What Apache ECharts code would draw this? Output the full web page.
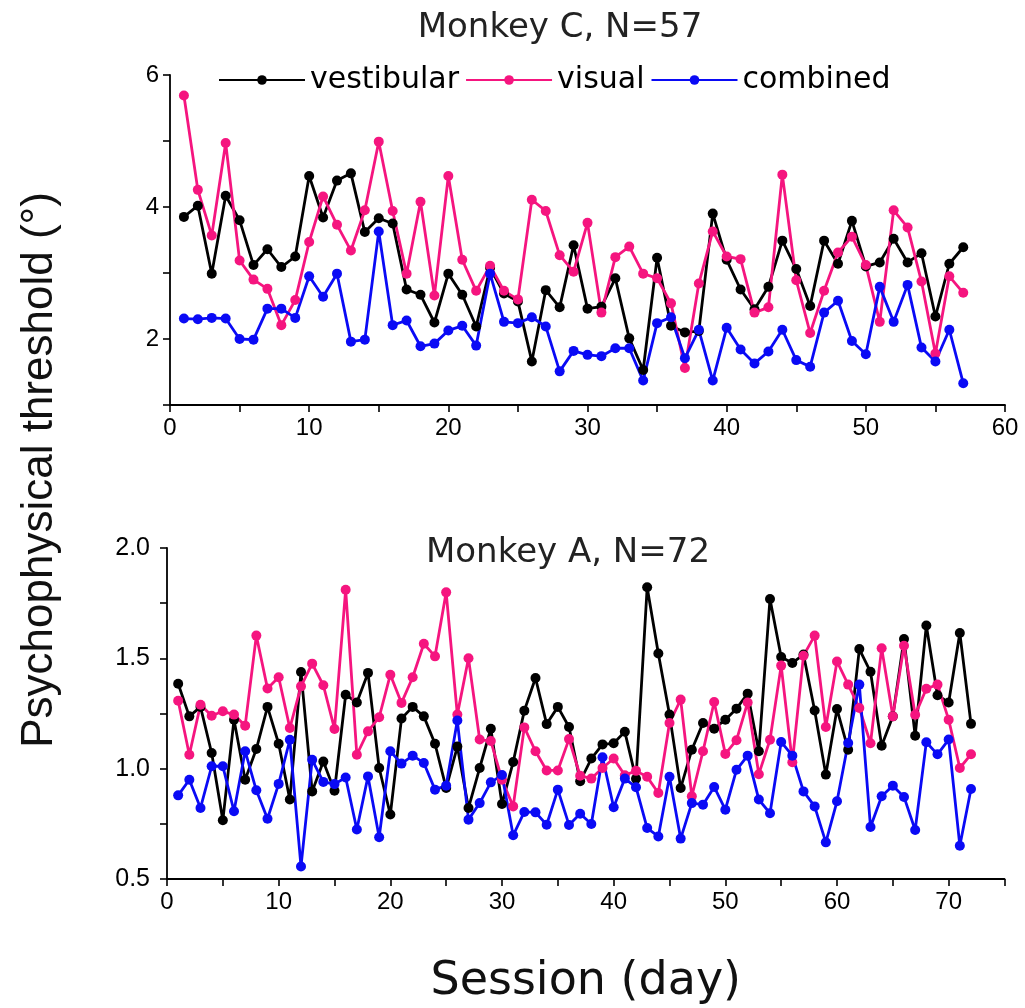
<!DOCTYPE html>
<html>
<head>
<meta charset="utf-8">
<title>Psychophysical threshold by session</title>
<script src="https://cdn.jsdelivr.net/npm/echarts@6/dist/echarts.min.js"></script>
<style>
  html, body { margin: 0; padding: 0; background: #fff; }
  #chart { width: 1025px; height: 1008px; }
</style>
</head>
<body>
<div id="chart"></div>
<script>
// Monkey C: 57 sessions
const monkeyCVestibular = [3.85, 4.02, 2.99, 4.17, 3.80, 3.12, 3.36, 3.09, 3.25, 4.47,
  3.84, 4.40, 4.51, 3.62, 3.83, 3.75, 2.75, 2.67, 2.25, 2.99,
  2.67, 2.19, 3.08, 2.69, 2.57, 1.66, 2.74, 2.48, 3.42, 2.46,
  2.49, 2.92, 2.01, 1.53, 3.23, 2.20, 2.10, 2.12, 3.90, 3.20,
  2.75, 2.45, 2.79, 3.49, 3.06, 2.50, 3.49, 3.14, 3.79, 3.10,
  3.16, 3.52, 3.16, 3.30, 2.34, 3.14, 3.39];
const monkeyCVisual = [5.69, 4.26, 3.57, 4.97, 3.19, 2.90, 2.76, 2.21, 2.59, 3.47,
  4.16, 3.73, 3.34, 3.95, 4.99, 3.94, 2.99, 4.08, 2.66, 4.47,
  3.20, 2.73, 3.11, 2.73, 2.60, 4.11, 3.94, 3.27, 3.02, 3.76,
  2.40, 3.24, 3.40, 2.99, 2.92, 2.54, 1.56, 2.84, 3.63, 3.25,
  3.21, 2.40, 2.48, 4.49, 2.89, 2.09, 2.73, 3.31, 3.55, 3.12,
  2.26, 3.95, 3.69, 2.87, 1.78, 2.95, 2.70];
const monkeyCCombined = [2.31, 2.30, 2.32, 2.31, 2.00, 1.99, 2.46, 2.46, 2.32, 2.95,
  2.64, 2.99, 1.96, 1.99, 3.63, 2.21, 2.28, 1.89, 1.93, 2.13,
  2.20, 1.90, 2.99, 2.26, 2.24, 2.33, 2.19, 1.51, 1.82, 1.76,
  1.74, 1.86, 1.86, 1.37, 2.24, 2.33, 1.71, 2.14, 1.37, 2.17,
  1.84, 1.63, 1.81, 2.14, 1.68, 1.58, 2.40, 2.58, 1.97, 1.77,
  2.79, 2.26, 2.82, 1.87, 1.66, 2.14, 1.33];

// Monkey A: 72 sessions
const monkeyAVestibular = [1.385, 1.237, 1.28, 1.071, 0.766, 1.222, 0.95, 1.089, 1.28, 1.113,
  0.86, 1.438, 0.897, 1.032, 0.90, 1.335, 1.30, 1.434, 1.003, 0.792,
  1.227, 1.28, 1.237, 1.113, 0.912, 1.10, 0.822, 1.003, 1.181, 0.84,
  1.03, 1.263, 1.411, 1.202, 1.28, 1.189, 0.943, 1.046, 1.11, 1.115,
  1.167, 0.954, 1.822, 1.522, 1.245, 0.912, 1.086, 1.207, 1.181, 1.222,
  1.272, 1.34, 1.079, 1.769, 1.506, 1.479, 1.517, 1.264, 0.973, 1.27,
  1.086, 1.542, 1.439, 1.104, 1.237, 1.588, 1.149, 1.649, 1.333, 1.30,
  1.615, 1.203];
const monkeyAVisual = [1.308, 1.063, 1.29, 1.24, 1.26, 1.245, 1.195, 1.603, 1.363, 1.414,
  1.184, 1.373, 1.476, 1.378, 1.18, 1.811, 1.063, 1.169, 1.233, 1.426,
  1.298, 1.414, 1.566, 1.509, 1.799, 1.245, 1.50, 1.132, 1.125, 0.95,
  0.829, 1.187, 1.079, 0.992, 0.992, 1.134, 0.968, 0.955, 1.003, 1.046,
  0.97, 0.99, 0.963, 0.89, 1.207, 1.313, 0.875, 1.079, 1.302, 1.067,
  1.129, 1.30, 0.975, 1.131, 1.467, 1.029, 1.512, 1.603, 1.189, 1.486,
  1.381, 1.275, 1.115, 1.546, 1.237, 1.557, 1.244, 1.362, 1.381, 1.222,
  1.003, 1.065];
const monkeyACombined = [0.879, 0.95, 0.822, 1.011, 1.011, 0.807, 1.079, 0.902, 0.773, 0.931,
  1.131, 0.557, 1.04, 0.94, 0.93, 0.96, 0.724, 0.965, 0.689, 1.079,
  1.023, 1.059, 1.026, 0.905, 0.923, 1.218, 0.769, 0.844, 0.938, 0.971,
  0.698, 0.804, 0.802, 0.746, 0.905, 0.745, 0.796, 0.749, 1.052, 0.825,
  0.955, 0.916, 0.731, 0.693, 0.963, 0.683, 0.844, 0.837, 0.917, 0.814,
  0.995, 1.059, 0.86, 0.798, 1.121, 1.059, 0.897, 0.829, 0.666, 0.852,
  1.116, 1.381, 0.736, 0.875, 0.923, 0.872, 0.722, 1.12, 1.065, 1.132,
  0.651, 0.908];

const seriesNames = ['vestibular', 'visual', 'combined'];
const seriesColors = ['#000000', '#f5157f', '#0a0af5'];
const panelTitles = ['Monkey C, N=57', 'Monkey A, N=72'];
const yTitle = 'Psychophysical threshold (\u00b0)';
const xTitle = 'Session (day)';

const FONT = '"Liberation Sans", Arial, sans-serif';
const WIDE_FONT = '"DejaVu Sans", "Liberation Sans", sans-serif';

// pair each threshold with its session number (sessions start at 1)
function toPoints(values) {
  return values.map((v, i) => [i + 1, v]);
}

function lineSeries(name, color, values, axisIndex) {
  return {
    name: name,
    type: 'line',
    xAxisIndex: axisIndex,
    yAxisIndex: axisIndex,
    data: toPoints(values),
    symbol: 'circle',
    symbolSize: 10,
    showSymbol: true,
    itemStyle: { color: color },
    lineStyle: { color: color, width: 2.8 },
    emphasis: { disabled: true },
    animation: false,
    clip: false
  };
}

const axisLineStyle = { color: '#000', width: 1.8 };
const tickStyle = { show: true, inside: false, length: 7, lineStyle: { color: '#000', width: 1.6 } };
const minorStyle = { show: true, splitNumber: 2, length: 7, lineStyle: { color: '#000', width: 1.6 } };
const labelStyle = { color: '#000', fontSize: 24, fontFamily: FONT, margin: 11 };

const chart = echarts.init(document.getElementById('chart'), null, { renderer: 'canvas' });

chart.setOption({
  backgroundColor: '#fff',
  animation: false,
  title: [
    {
      text: panelTitles[0], left: 555, top: 6, textAlign: 'center',
      textStyle: { fontSize: 34, fontWeight: 'normal', color: '#222', fontFamily: WIDE_FONT }
    },
    {
      text: panelTitles[1], left: 563, top: 531, textAlign: 'center',
      textStyle: { fontSize: 34, fontWeight: 'normal', color: '#222', fontFamily: WIDE_FONT }
    }
  ],
  legend: {
    data: seriesNames,
    left: 213,
    top: 60,
    itemWidth: 86,
    itemHeight: 12,
    itemGap: 6,
    textStyle: { fontSize: 30, color: '#000', fontFamily: WIDE_FONT },
    selectedMode: false
  },
  grid: [
    { left: 170, right: 20, top: 75, height: 330, containLabel: false, outerBoundsMode: 'none' },
    { left: 167, right: 20.5, top: 548, height: 331, containLabel: false, outerBoundsMode: 'none' }
  ],
  xAxis: [
    {
      type: 'value', gridIndex: 0, min: 0, max: 60, interval: 10,
      axisLine: { show: true, onZero: false, lineStyle: axisLineStyle },
      axisTick: tickStyle, minorTick: minorStyle,
      axisLabel: labelStyle,
      splitLine: { show: false }, minorSplitLine: { show: false }
    },
    {
      type: 'value', gridIndex: 1, min: 0, max: 75, interval: 10,
      axisLine: { show: true, onZero: false, lineStyle: axisLineStyle },
      axisTick: tickStyle, minorTick: minorStyle,
      axisLabel: Object.assign({}, labelStyle, {
        formatter: v => (v % 10 === 0 ? String(v) : '')
      }),
      splitLine: { show: false }, minorSplitLine: { show: false },
      name: xTitle, nameLocation: 'middle', nameGap: 80,
      nameTextStyle: { fontSize: 46, color: '#111', fontFamily: WIDE_FONT }
    }
  ],
  yAxis: [
    {
      type: 'value', gridIndex: 0, min: 1, max: 6, interval: 1,
      axisLine: { show: true, onZero: false, lineStyle: axisLineStyle },
      axisTick: tickStyle,
      axisLabel: Object.assign({}, labelStyle, {
        formatter: v => (v % 2 === 0 ? String(v) : '')
      }),
      splitLine: { show: false }
    },
    {
      type: 'value', gridIndex: 1, min: 0.5, max: 2.0, interval: 0.5,
      axisLine: { show: true, onZero: false, lineStyle: axisLineStyle },
      axisTick: tickStyle, minorTick: minorStyle,
      axisLabel: Object.assign({}, labelStyle, {
        fontSize: 25, margin: 17,
        formatter: v => v.toFixed(1)
      }),
      splitLine: { show: false }, minorSplitLine: { show: false }
    }
  ],
  graphic: [
    {
      type: 'text',
      x: 40, y: 470,
      rotation: Math.PI / 2,
      style: {
        text: yTitle,
        fontSize: 44,
        fontFamily: FONT,
        fill: '#111',
        align: 'center',
        verticalAlign: 'middle'
      }
    }
  ],
  series: [
    lineSeries(seriesNames[0], seriesColors[0], monkeyCVestibular, 0),
    lineSeries(seriesNames[1], seriesColors[1], monkeyCVisual, 0),
    lineSeries(seriesNames[2], seriesColors[2], monkeyCCombined, 0),
    lineSeries(seriesNames[0], seriesColors[0], monkeyAVestibular, 1),
    lineSeries(seriesNames[1], seriesColors[1], monkeyAVisual, 1),
    lineSeries(seriesNames[2], seriesColors[2], monkeyACombined, 1)
  ]
});
</script>
</body>
</html>
